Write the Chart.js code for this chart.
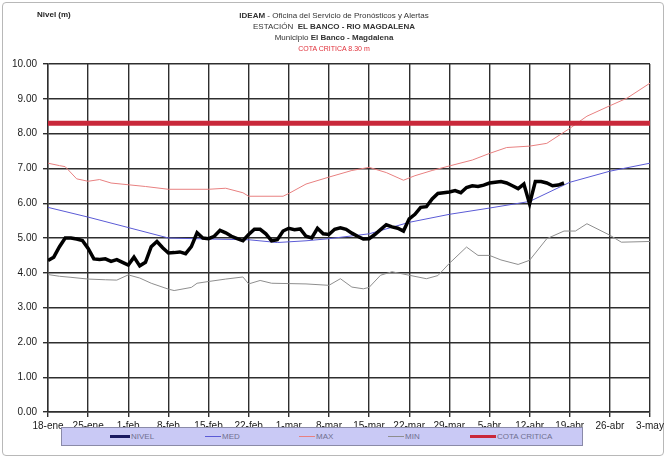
<!DOCTYPE html>
<html lang="es">
<head>
<meta charset="UTF-8">
<title>Nivel El Banco - Rio Magdalena</title>
<script src="https://cdn.jsdelivr.net/npm/chart.js"></script>
<style>
  body { margin: 0; background: #fff; font-family: "Liberation Sans", Arial, sans-serif; }
  #wrap { position: relative; width: 668px; height: 460px; }
  #frame {
    position: absolute; left: 2px; top: 2px; width: 662px; height: 454px;
    border: 1px solid #b8b8b8; border-radius: 4px; box-sizing: border-box;
  }
  canvas { position: absolute; left: 0; top: 0; }
  .ylabel { position: absolute; left: 37px; top: 10px; font-size: 8px; font-weight: bold; color: #222; }
  .title { position: absolute; left: 0; width: 668px; text-align: center; font-size: 8px; color: #333; line-height: 11px; top: 10px; }
  .title .crit { color: #e0303a; font-size: 7px; }
  #legend {
    position: absolute; left: 61px; top: 427px; width: 522px; height: 19px;
    background: #c9c9f5; border: 1px solid #8a8aa8; box-sizing: border-box;
  }
  .item { position: absolute; top: 4px; font-size: 8px; color: #707090; line-height: 9px; }
  .item span { display: inline-block; vertical-align: middle; margin-right: 1px; }
</style>
</head>
<body>
<div id="wrap">
  <div id="frame"></div>
  <canvas id="chart" width="668" height="460"></canvas>
  <div class="ylabel">Nivel (m)</div>
  <div class="title">
    <b>IDEAM</b> - Oficina del Servicio de Pronósticos y Alertas<br>
    ESTACIÓN &nbsp;<b>EL BANCO - RIO MAGDALENA</b><br>
    Municipio <b>El Banco - Magdalena</b><br>
    <span class="crit">COTA CRITICA 8.30 m</span>
  </div>
  <div id="legend"></div>
</div>
<script>
// fechas del eje x (cada 7 dias desde 18-ene)
const tickLabels = ['18-ene','25-ene','1-feb','8-feb','15-feb','22-feb','1-mar','8-mar',
  '15-mar','22-mar','29-mar','5-abr','12-abr','19-abr','26-abr','3-may'];

// nivel diario observado (dia 0 = 18-ene)
const nivel = [4.35,4.45,4.75,5.00,5.00,4.97,4.93,4.70,4.40,4.38,
  4.40,4.33,4.38,4.30,4.22,4.45,4.20,4.30,4.75,4.90,
  4.72,4.57,4.58,4.60,4.55,4.75,5.15,5.00,4.98,5.05,
  5.22,5.15,5.05,4.98,4.92,5.10,5.25,5.25,5.12,4.92,
  4.95,5.20,5.28,5.24,5.26,5.05,5.00,5.28,5.12,5.10,
  5.25,5.29,5.25,5.14,5.05,4.97,4.98,5.10,5.24,5.38,
  5.32,5.28,5.20,5.55,5.68,5.88,5.90,6.12,6.28,6.30,
  6.32,6.36,6.30,6.45,6.50,6.48,6.52,6.58,6.60,6.62,
  6.58,6.50,6.42,6.55,5.98,6.62,6.62,6.58,6.50,6.52,6.58];

// curvas historicas
const medDays = [0,7,14,21,28,35,40,45,49,56,63,70,77,84,91,98,105];
const medVals = [5.88,5.60,5.30,5.00,4.97,4.95,4.87,4.92,4.98,5.12,5.45,5.68,5.86,6.05,6.60,6.92,7.15];

const maxDays = [0,2,3,5,7,9,11,14,17,21,28,31,34,35,41,42,45,49,53,56,59,62,64,67,70,74,77,80,84,87,91,94,98,101,105];
const maxVals = [7.15,7.08,7.05,6.70,6.63,6.68,6.58,6.53,6.48,6.40,6.40,6.43,6.30,6.20,6.20,6.28,6.55,6.75,6.94,7.03,6.88,6.66,6.79,6.94,7.07,7.24,7.43,7.60,7.64,7.72,8.15,8.50,8.80,9.02,9.45];

const minDays = [0,2,4,7,10,12,14,16,18,21,22,25,26,28,31,34,35,37,39,42,45,49,51,53,55,56,58,60,63,66,68,70,73,75,77,79,82,84,87,90,92,94,98,100,105];
const minVals = [3.95,3.90,3.87,3.82,3.80,3.79,3.94,3.85,3.70,3.53,3.49,3.58,3.70,3.75,3.82,3.88,3.68,3.78,3.70,3.69,3.68,3.64,3.83,3.59,3.54,3.58,3.93,4.03,3.93,3.83,3.92,4.27,4.74,4.50,4.50,4.37,4.24,4.36,4.98,5.20,5.20,5.41,5.08,4.88,4.90];

const cotaCritica = 8.30;
const lastDay = 105;

const pts = (days, vals) => vals.map((v, i) => ({ x: days[i], y: v }));

const series = [
  { label: 'NIVEL', data: nivel.map((v, i) => ({ x: i, y: v })), color: '#000000', width: 3.5, order: 0 },
  { label: 'MED', data: pts(medDays, medVals), color: '#5b5bd6', width: 1, order: 2 },
  { label: 'MAX', data: pts(maxDays, maxVals), color: '#e88080', width: 1, order: 3 },
  { label: 'MIN', data: pts(minDays, minVals), color: '#8e8e8e', width: 1, order: 4 },
  { label: 'COTA CRITICA', data: [{ x: 0, y: cotaCritica }, { x: lastDay, y: cotaCritica }], color: '#c9283a', width: 5, order: 1 }
];

const tickFont = { size: 10, family: '"Liberation Sans", Arial' };

new Chart(document.getElementById('chart'), {
  type: 'line',
  data: {
    datasets: series.map(s => ({
      label: s.label, data: s.data, borderColor: s.color, backgroundColor: s.color,
      borderWidth: s.width, pointRadius: 0, tension: 0, fill: false, order: s.order
    }))
  },
  options: {
    responsive: false,
    animation: false,
    layout: { padding: { left: 0, right: 18, top: 64, bottom: 28 } },
    plugins: { legend: { display: false }, tooltip: { enabled: false } },
    scales: {
      x: {
        type: 'linear', min: 0, max: lastDay,
        afterBuildTicks: s => { s.ticks = tickLabels.map((_, i) => ({ value: i * 7 })); },
        afterFit: s => { s.height = 20; },
        ticks: {
          autoSkip: false, maxRotation: 0, padding: 3, color: '#1a1a1a', font: tickFont,
          callback: v => tickLabels[Math.round(v / 7)]
        },
        grid: { color: '#2e2e2e', lineWidth: 1.4, tickLength: 5 },
        border: { color: '#2e2e2e', width: 1.4 }
      },
      y: {
        min: 0, max: 10,
        afterFit: s => { s.width = 48; },
        ticks: {
          stepSize: 1, padding: 6, color: '#1a1a1a', font: tickFont,
          callback: v => v.toFixed(2)
        },
        grid: { color: '#2e2e2e', lineWidth: 1.4, tickLength: 5 },
        border: { color: '#2e2e2e', width: 1.4 }
      }
    }
  }
});

// leyenda en caja lila, como la original
const legendPos = [48, 143, 237, 326, 408];
const legend = document.getElementById('legend');
series.forEach((s, i) => {
  const el = document.createElement('div');
  el.className = 'item';
  el.style.left = legendPos[i] + 'px';
  const len = s.label === 'COTA CRITICA' ? 26 : (s.label === 'NIVEL' ? 20 : 16);
  el.innerHTML = '<span style="width:' + len + 'px;height:' + Math.max(1, Math.min(s.width, 3)) +
    'px;background:' + (s.label === 'NIVEL' ? '#1a1a60' : s.color) + '"></span>' + s.label;
  legend.appendChild(el);
});
</script>
</body>
</html>
